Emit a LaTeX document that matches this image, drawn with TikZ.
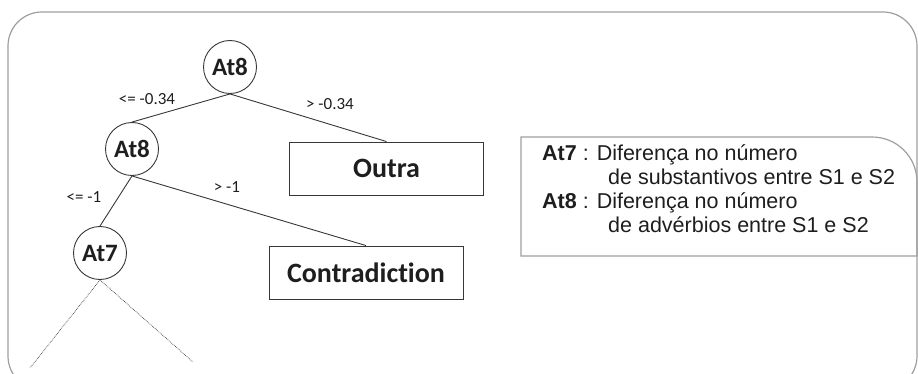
\documentclass[tikz,border=0pt]{standalone}
\usepackage{fontspec}
\setmainfont{Carlito}[Ligatures=NoCommon]
\newfontfamily\legendfont{Liberation Sans}
\definecolor{framegray}{RGB}{158,158,158}
\definecolor{linegray}{RGB}{55,55,55}
\definecolor{textgray}{RGB}{30,30,30}
\usetikzlibrary{positioning, calc}
\newcommand{\branch}[2]
{
	\draw[linegray, line width=0.9pt] (#1.south) -- (#2.north)
}

\begin{document}
\begin{tikzpicture}[x=1pt, y=-1pt,
	every node/.append style={text=textgray},
	attr/.style={shape=circle, draw=linegray, line width=0.9pt, minimum size=53pt,
		inner sep=0pt, font=\bfseries\fontsize{25}{25}\selectfont},
	leaf/.style={shape=rectangle, draw=linegray, line width=0.9pt, minimum width=194pt,
		minimum height=53pt, inner sep=0pt, font=\bfseries\fontsize{28}{28}\selectfont},
	cond/.style={font=\fontsize{17}{17}\selectfont, inner sep=0pt},
	keyline/.style={anchor=base west, inner sep=0pt,
		font=\legendfont\fontsize{21.5}{24}\selectfont}]

	\clip (0,0) rectangle (918,374);
	\draw[framegray, line width=1.2pt, rounded corners=34pt] (8,12) rectangle (917,390);

	% tree
	\node[attr] at (230, 67) (R){At8};
	\node[attr] at (132, 149) (A){At8};
	\node[attr] at (100, 253) (B){At7};
	\node[leaf] at (386.5, 168.5) (O){Outra};
	\node[leaf] at (366, 272.5) (C){Contradiction};
	\coordinate (BL) at (30, 368);
	\coordinate (BR) at (193, 362);
	\branch{R}{A};
	\branch{R}{O};
	\branch{A}{B};
	\branch{A}{C};
	\draw[linegray, densely dotted, line width=0.7pt] (B.south) -- (BL);
	\draw[linegray, densely dotted, line width=0.7pt] (B.south) -- (BR);

	\node[cond] at (147, 99) (lRA){<= -0.34};
	\node[cond] at (330, 104) (lRO){> -0.34};
	\node[cond] at (84, 197) (lAB){<= -1};
	\node[cond] at (227, 187) (lAC){> -1};

	% legend
	\draw[framegray, line width=1.2pt] (521,256) -- (521,137) -- (872,137)
		.. controls (897,137) and (917,157) .. (917,182) -- (917,256) -- cycle;
	\node[keyline] at (542, 161) (K1){\textbf{At7} : Diferença no número};
	\node[keyline] at (608, 185) (K2){de substantivos entre S1 e S2};
	\node[keyline] at (542, 209) (K3){\textbf{At8} : Diferença no número};
	\node[keyline] at (608, 233) (K4){de advérbios entre S1 e S2};
\end{tikzpicture}
\end{document}
